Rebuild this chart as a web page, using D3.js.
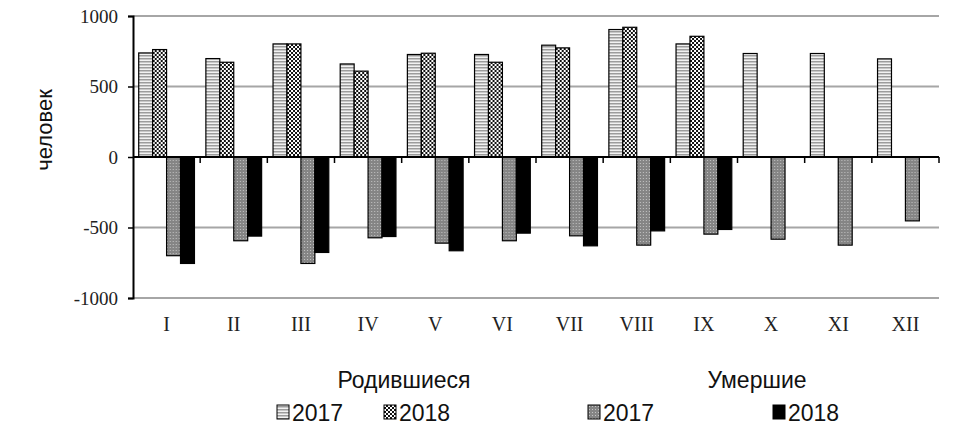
<!DOCTYPE html>
<html>
<head>
<meta charset="utf-8">
<script src="https://cdn.jsdelivr.net/npm/d3@7"></script>
<style>
  body { margin: 0; background: #fff; }
  svg { display: block; }
</style>
</head>
<body>
<div id="chart"></div>
<script>
// months (roman numerals) and values
const months = ["I", "II", "III", "IV", "V", "VI", "VII", "VIII", "IX", "X", "XI", "XII"];
const born2017 = [738, 698, 802, 660, 727, 727, 793, 904, 802, 734, 734, 696];
const born2018 = [762, 672, 802, 609, 736, 672, 774, 920, 856, null, null, null];
const died2017 = [-700, -594, -755, -573, -611, -594, -559, -625, -547, -583, -625, -453];
const died2018 = [-755, -561, -677, -564, -665, -540, -630, -524, -514, null, null, null];
const yTicks = [-1000, -500, 0, 500, 1000];
const seriesKeys = ["b17", "b18", "d17", "d18"];
const legendLabels = ["2017", "2018", "2017", "2018"];
const groupLabels = ["Родившиеся", "Умершие"];

const width = 963, height = 428;
var margin = { top: 16, right: 24, bottom: 130, left: 133 };

const svg = d3
  .select("#chart")
  .append("svg")
  .attr("width", width)
  .attr("height", height);

// patterns used by the bars
const defs = svg.append("defs");

var p1 = defs.append("pattern").attr("id", "pat-b17")
  .attr("patternUnits", "userSpaceOnUse").attr("width", 4).attr("height", 3);
p1.append("rect").attr("width", 4).attr("height", 3).attr("fill", "#f2f2f2");
p1.append("rect").attr("y", 1).attr("width", 4).attr("height", 1.5).attr("fill", "#9c9c9c");

var p2 = defs.append("pattern").attr("id", "pat-b18")
  .attr("patternUnits", "userSpaceOnUse").attr("width", 4).attr("height", 4);
p2.append("rect").attr("width", 4).attr("height", 4).attr("fill", "#111");
p2.append("rect").attr("width", 2).attr("height", 2).attr("fill", "#fff");
p2.append("rect").attr("x", 2).attr("y", 2).attr("width", 2).attr("height", 2).attr("fill", "#fff");

var p3 = defs.append("pattern").attr("id", "pat-d17")
  .attr("patternUnits", "userSpaceOnUse").attr("width", 3).attr("height", 3);
p3.append("rect").attr("width", 3).attr("height", 3).attr("fill", "#858585");
p3.append("rect").attr("x", 1).attr("y", 1).attr("width", 1).attr("height", 1).attr("fill", "#c4c4c4");

const fills = {
  b17: "url(#pat-b17)",
  b18: "url(#pat-b18)",
  d17: "url(#pat-d17)",
  d18: "#000"
};

const data = months.map((m, i) => ({
  month: m,
  b17: born2017[i],
  b18: born2018[i],
  d17: died2017[i],
  d18: died2018[i]
}));

var x = d3
  .scaleBand()
  .domain(months)
  .range([margin.left, width - margin.right])
  .paddingInner(0.17)
  .paddingOuter(0.085);

var xSub = d3.scaleBand().domain(seriesKeys).range([0, x.bandwidth()]);

var y = d3.scaleLinear().domain([-1000, 1000]).range([298, 16]);

// gridlines
svg
  .append("g")
  .selectAll("line")
  .data(yTicks.filter(d => d !== 0))
  .enter()
  .append("line")
  .attr("x1", margin.left)
  .attr("x2", width - margin.right)
  .attr("y1", d => y(d))
  .attr("y2", d => y(d))
  .attr("stroke", "#a6a6a6")
  .attr("stroke-width", 2);

// bars
const groups = svg
  .append("g")
  .selectAll("g")
  .data(data)
  .enter()
  .append("g")
  .attr("transform", d => `translate(${x(d.month)},0)`);

groups
  .selectAll("rect")
  .data(d => seriesKeys.filter(k => d[k] != null).map(k => ({ key: k, value: d[k] })))
  .enter()
  .append("rect")
  .attr("x", d => xSub(d.key))
  .attr("y", d => y(Math.max(0, d.value)))
  .attr("width", xSub.bandwidth())
  .attr("height", d => Math.abs(y(d.value) - y(0)))
  .attr("fill", d => fills[d.key])
  .attr("stroke", "#000")
  .attr("stroke-width", 1.2);

// left axis
const yAxis = svg
  .append("g")
  .attr("transform", `translate(${margin.left},0)`)
  .call(d3.axisLeft(y).tickValues(yTicks).tickSize(5).tickPadding(10).tickFormat(d => String(d)));
yAxis.select(".domain").attr("stroke", "#000").attr("stroke-width", 2);
yAxis.selectAll(".tick line").attr("stroke", "#000").attr("stroke-width", 1.5);
yAxis
  .selectAll(".tick text")
  .attr("font-family", "'Liberation Serif', 'Times New Roman', serif")
  .attr("font-size", 19)
  .attr("fill", "#222");

// zero axis with category ticks pointing down
svg
  .append("line")
  .attr("x1", margin.left)
  .attr("x2", width - margin.right)
  .attr("y1", y(0))
  .attr("y2", y(0))
  .attr("stroke", "#000")
  .attr("stroke-width", 2);

svg
  .append("g")
  .selectAll("line")
  .data(months)
  .enter()
  .append("line")
  .attr("x1", d => x(d) + x.bandwidth() + (x.step() - x.bandwidth()) / 2)
  .attr("x2", d => x(d) + x.bandwidth() + (x.step() - x.bandwidth()) / 2)
  .attr("y1", y(0))
  .attr("y2", y(0) + 6)
  .attr("stroke", "#000")
  .attr("stroke-width", 1.5);

// month labels
svg
  .append("g")
  .selectAll("text")
  .data(months)
  .enter()
  .append("text")
  .attr("x", d => x(d) + x.bandwidth() / 2)
  .attr("y", 331)
  .attr("text-anchor", "middle")
  .attr("font-family", "'Liberation Serif', 'Times New Roman', serif")
  .attr("font-size", 20)
  .attr("fill", "#222")
  .text(d => d);

// y title
svg
  .append("text")
  .attr("transform", "translate(52,130) rotate(-90)")
  .attr("text-anchor", "middle")
  .attr("font-family", "'Liberation Sans', Arial, sans-serif")
  .attr("font-size", 22)
  .attr("fill", "#111")
  .text("человек");

// legend
const groupX = [404, 757];
svg
  .append("g")
  .selectAll("text")
  .data(groupLabels)
  .enter()
  .append("text")
  .attr("x", (d, i) => groupX[i])
  .attr("y", 388)
  .attr("text-anchor", "middle")
  .attr("font-family", "'Liberation Sans', Arial, sans-serif")
  .attr("font-size", 23)
  .attr("fill", "#111")
  .text(d => d);

const legendX = [277, 384, 588, 773];
const legend = svg
  .append("g")
  .selectAll("g")
  .data(seriesKeys)
  .enter()
  .append("g")
  .attr("transform", (d, i) => `translate(${legendX[i]},405)`);

legend
  .append("rect")
  .attr("width", 12)
  .attr("height", 14)
  .attr("fill", d => fills[d])
  .attr("stroke", "#000")
  .attr("stroke-width", 1);

legend
  .append("text")
  .attr("x", 15)
  .attr("y", 16)
  .attr("font-family", "'Liberation Sans', Arial, sans-serif")
  .attr("font-size", 23)
  .attr("fill", "#111")
  .text((d, i) => legendLabels[i]);
</script>
</body>
</html>
